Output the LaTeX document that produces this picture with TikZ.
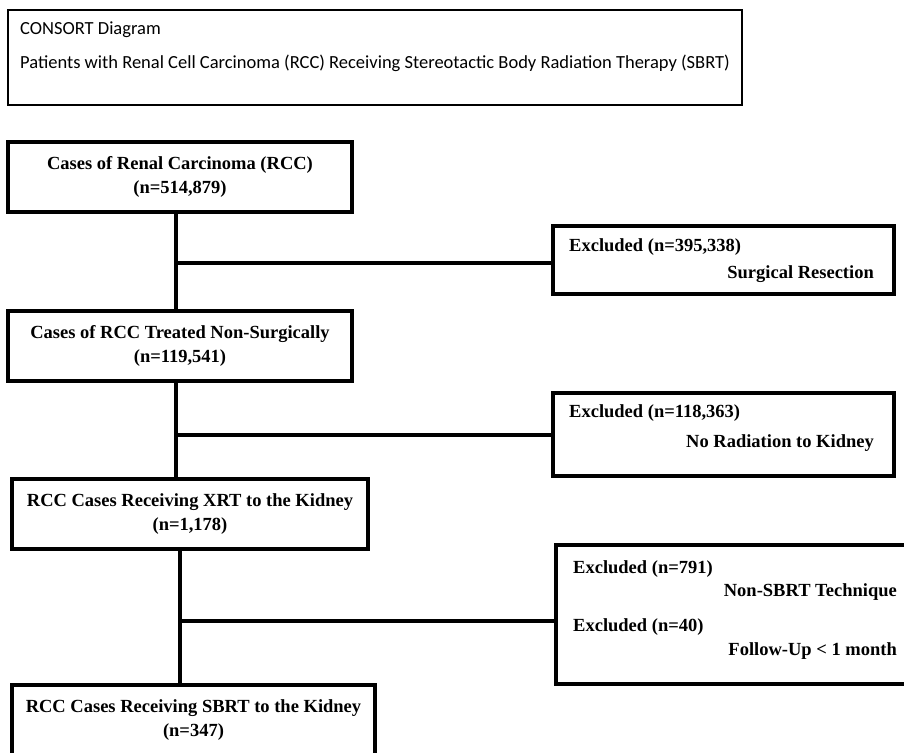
\documentclass[tikz,border=0pt]{standalone}
\usepackage{fontspec}
\setmainfont{Liberation Serif}
\newfontfamily\hdrfont{Carlito}
\usetikzlibrary{positioning}

\begin{document}
\begin{tikzpicture}
[x=1pt,y=-1pt,%
  every node/.style={inner sep=0pt},%
  mainbox/.style={draw,line width=4pt,rectangle,align=center,
    font=\fontsize{18.5}{24}\selectfont\bfseries},%
  exclbox/.style={draw,line width=4pt,rectangle},%
  excltext/.style={font=\fontsize{18.5}{20}\selectfont\bfseries},%
  hdrtext/.style={anchor=west,font=\hdrfont\fontsize{18.5}{20}\selectfont},%
  link/.style={-,line width=4pt}]
\useasboundingbox (0,0) rectangle (904,752);
%% header
\node (hdr) at (375,57.5) [draw,line width=1.2pt,minimum width=734,minimum height=95] {};
\node (hdr1) at (20,30) [hdrtext] {CONSORT Diagram};
\node (hdr2) at (20,63) [hdrtext] {Patients with Renal Cell Carcinoma (RCC) Receiving Stereotactic Body Radiation Therapy (SBRT)};
%% main boxes
\node (rcc) at (180,177) [mainbox,minimum width=344,minimum height=70]
  {Cases of Renal Carcinoma (RCC)\\(n=514,879)};
\node (nonsurg) at (180,346) [mainbox,minimum width=344,minimum height=70]
  {Cases of RCC Treated Non-Surgically\\(n=119,541)};
\node (xrt) at (190,514) [mainbox,minimum width=356,minimum height=70]
  {RCC Cases Receiving XRT to the Kidney\\(n=1,178)};
\node (sbrt) at (193.5,720) [mainbox,minimum width=363,minimum height=70]
  {RCC Cases Receiving SBRT to the Kidney\\(n=347)};
%% excluded boxes
\node (ex1) at (723.5,260) [exclbox,minimum width=341,minimum height=68] {};
\node (ex1a) at (569,247) [excltext,anchor=west] {Excluded (n=395,338)};
\node (ex1b) at (874,274) [excltext,anchor=east] {Surgical Resection};
%%
\node (ex2) at (723.5,434.5) [exclbox,minimum width=341,minimum height=83] {};
\node (ex2a) at (569,413) [excltext,anchor=west] {Excluded (n=118,363)};
\node (ex2b) at (874,443) [excltext,anchor=east] {No Radiation to Kidney};
%%
\node (ex3) at (731,614.5) [exclbox,minimum width=350,minimum height=139] {};
\node (ex3a) at (573,569) [excltext,anchor=west] {Excluded (n=791)};
\node (ex3b) at (897,592) [excltext,anchor=east] {Non-SBRT Technique};
\node (ex3c) at (573,627) [excltext,anchor=west] {Excluded (n=40)};
\node (ex3d) at (897,651) [excltext,anchor=east] {Follow-Up < 1 month};
%% connectors
\coordinate (j1) at ([xshift=-4pt]rcc.south);
\coordinate (j2) at ([xshift=-4pt]nonsurg.south);
\coordinate (j3) at ([xshift=-10pt]xrt.south);
\draw[link] (j1) -- (j1 |- nonsurg.north);
\draw[link] (j2) -- (j2 |- xrt.north);
\draw[link] (j3) -- (j3 |- sbrt.north);
\draw[link] (j1 |- ex1.west) ++(0,3) -- ([yshift=-3pt]ex1.west);
\draw[link] (j2 |- ex2.west) -- (ex2.west);
\draw[link] (j3 |- ex3.west) ++(0,6.5) -- ([yshift=-6.5pt]ex3.west);
\end{tikzpicture}
\end{document}
